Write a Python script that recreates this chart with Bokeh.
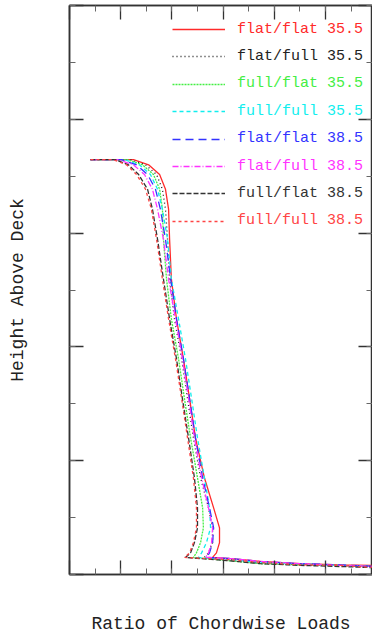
from bokeh.plotting import figure
from bokeh.models import (Range1d, LinearAxis, SingleIntervalTicker, Legend, LegendItem,
                          CustomJSTickFormatter)
from bokeh.embed import file_html
from bokeh.resources import INLINE

# ---- data ----
heights = [0.729, 0.729, 0.720, 0.703, 0.677, 0.642, 0.589, 0.519, 0.449,
           0.379, 0.309, 0.240, 0.170, 0.117, 0.082, 0.056, 0.038, 0.030]
tail_x = [0.629, 0.746, 0.902, 1.059, 1.195]

labels = ["flat/flat 35.5", "flat/full 35.5", "full/flat 35.5", "full/full 35.5",
          "flat/flat 38.5", "flat/full 38.5", "full/flat 38.5", "full/full 38.5"]

x_flat_flat_355 = [0.082, 0.250, 0.309, 0.352, 0.375, 0.387, 0.391, 0.398, 0.418,
                   0.445, 0.469, 0.492, 0.527, 0.563, 0.586, 0.586, 0.574, 0.559]
x_flat_full_355 = [0.082, 0.238, 0.297, 0.340, 0.363, 0.375, 0.383, 0.391, 0.410,
                   0.438, 0.461, 0.484, 0.512, 0.543, 0.559, 0.559, 0.543, 0.527]
x_full_flat_355 = [0.082, 0.227, 0.285, 0.328, 0.352, 0.363, 0.367, 0.379, 0.398,
                   0.426, 0.449, 0.473, 0.500, 0.520, 0.523, 0.512, 0.496, 0.484]
x_full_full_355 = [0.082, 0.215, 0.273, 0.316, 0.344, 0.363, 0.383, 0.398, 0.426,
                   0.453, 0.477, 0.500, 0.527, 0.547, 0.551, 0.535, 0.516, 0.504]
x_flat_flat_385 = [0.082, 0.203, 0.262, 0.305, 0.336, 0.355, 0.375, 0.395, 0.418,
                   0.445, 0.469, 0.492, 0.520, 0.547, 0.563, 0.559, 0.547, 0.535]
x_flat_full_385 = [0.082, 0.191, 0.250, 0.293, 0.324, 0.344, 0.367, 0.387, 0.414,
                   0.441, 0.465, 0.488, 0.516, 0.543, 0.559, 0.555, 0.543, 0.531]
x_full_flat_385 = [0.082, 0.180, 0.230, 0.270, 0.305, 0.324, 0.344, 0.367, 0.391,
                   0.418, 0.441, 0.465, 0.488, 0.500, 0.500, 0.488, 0.473, 0.453]
x_full_full_385 = [0.082, 0.172, 0.223, 0.262, 0.297, 0.320, 0.340, 0.363, 0.387,
                   0.414, 0.438, 0.461, 0.484, 0.496, 0.496, 0.484, 0.469, 0.449]

tail_flat_flat_355 = [0.028, 0.023, 0.019, 0.017, 0.016]
tail_flat_full_355 = [0.026, 0.021, 0.017, 0.016, 0.014]
tail_full_flat_355 = [0.024, 0.019, 0.017, 0.016, 0.014]
tail_full_full_355 = [0.026, 0.021, 0.019, 0.016, 0.014]
tail_flat_flat_385 = [0.028, 0.023, 0.019, 0.017, 0.014]
tail_flat_full_385 = [0.028, 0.023, 0.019, 0.016, 0.014]
tail_full_flat_385 = [0.024, 0.019, 0.016, 0.014, 0.012]
tail_full_full_385 = [0.026, 0.021, 0.017, 0.016, 0.012]

# ---- styles ----
colors = ["#ff2a2a", "#222222", "#44ee44", "#11eeee",
          "#3333ff", "#ff33ff", "#333333", "#ff4444"]
dashes = ["solid", "1 3", "2 1", "4 3", "8 5", "6 2 1 2", "5 2", "3 3"]

xs_main = [x_flat_flat_355, x_flat_full_355, x_full_flat_355, x_full_full_355,
           x_flat_flat_385, x_flat_full_385, x_full_flat_385, x_full_full_385]
tails = [tail_flat_flat_355, tail_flat_full_355, tail_full_flat_355, tail_full_full_355,
         tail_flat_flat_385, tail_flat_full_385, tail_full_flat_385, tail_full_full_385]

W, H = 372, 636
LEFT, TOP, BOTTOM = 69, 5, 59
FONT = "Liberation Mono"

p = figure(width=W, height=H, output_backend="svg", toolbar_location=None,
           x_range=Range1d(0, (W - LEFT) / 256.0), y_range=Range1d(0, 1),
           x_axis_type=None, y_axis_type=None,
           min_border_left=LEFT, min_border_right=0,
           min_border_top=TOP, min_border_bottom=BOTTOM)
p.xgrid.visible = False
p.ygrid.visible = False
p.outline_line_color = "#333333"
p.outline_line_width = 1.5
p.background_fill_color = "white"
p.border_fill_color = "white"

blank = CustomJSTickFormatter(code="return ''")


def make_axis(label=None):
    ax = LinearAxis(ticker=SingleIntervalTicker(interval=0.2, num_minor_ticks=2),
                    formatter=blank)
    ax.major_label_standoff = 0
    ax.major_tick_in = 14
    ax.major_tick_out = 0
    ax.minor_tick_in = 6
    ax.minor_tick_out = 0
    ax.axis_line_color = "#333333"
    ax.axis_line_width = 1.5
    ax.major_tick_line_color = "#333333"
    ax.minor_tick_line_color = "#666666"
    ax.major_tick_line_width = 1.3
    if label:
        ax.axis_label = label
        ax.axis_label_text_font = FONT
        ax.axis_label_text_font_size = "18px"
        ax.axis_label_text_font_style = "normal"
        ax.axis_label_text_color = "#222222"
    return ax

xb = make_axis("Ratio of Chordwise Loads")
xb.axis_label_standoff = 39
p.add_layout(xb, "below")
yl = make_axis("Height Above Deck")
yl.axis_label_standoff = 42
p.add_layout(yl, "left")
p.add_layout(make_axis(), "above")
p.add_layout(make_axis(), "right")

renderers = []
for xm, tl, c, d in zip(xs_main, tails, colors, dashes):
    r = p.line(xm + tail_x, heights + tl, line_color=c, line_width=1.3, line_dash=d)
    renderers.append(r)

# legend: one entry per line, each in its own text colour
FRAME_H = H - TOP - BOTTOM
row0, pitch, box_h = 32 - TOP, 27.4, 20
for i, (r, lab, c) in enumerate(zip(renderers, labels, colors)):
    y_loc = FRAME_H - (row0 + pitch * i) - box_h / 2
    leg = Legend(items=[LegendItem(label=lab, renderers=[r])],
                 location=(103, y_loc), padding=0, margin=0, spacing=0,
                 glyph_width=53, glyph_height=box_h, label_height=box_h,
                 label_standoff=12, border_line_color=None,
                 background_fill_alpha=0,
                 label_text_font=FONT, label_text_font_size="15px",
                 label_text_color=c)
    p.add_layout(leg)

open("out.html", "w").write(file_html(p, INLINE))
